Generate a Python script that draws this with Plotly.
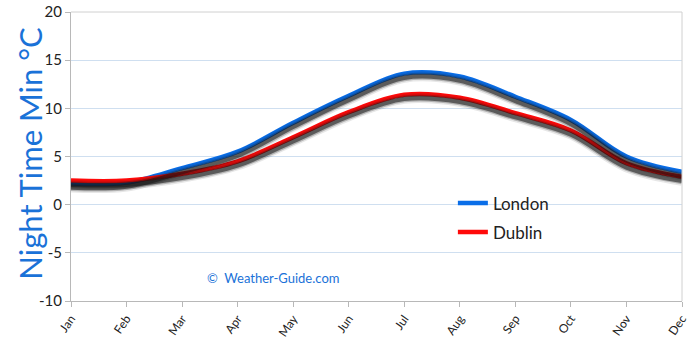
import plotly.graph_objects as go

months = ["Jan", "Feb", "Mar", "Apr", "May", "Jun", "Jul", "Aug", "Sep", "Oct", "Nov", "Dec"]
london = [2.2, 2.3, 3.8, 5.5, 8.5, 11.3, 13.6, 13.3, 11.2, 8.8, 5.0, 3.4]
dublin = [2.5, 2.5, 3.2, 4.5, 7.0, 9.6, 11.4, 11.1, 9.5, 7.7, 4.3, 2.9]
y_ticks = [-10, -5, 0, 5, 10, 15, 20]
y_tick_labels = ["-10", "-5", "0", "5", "10", "15", "20"]

Y_MIN, Y_MAX = -10, 20
SHADOW_SHIFT = 0.42  # drop shadow offset in data units (about 4px)

fig = go.Figure()

# soft drop shadows drawn on an overlaid axis shifted slightly upward
for series in (london, dublin):
    for width, alpha in ((10, 0.10), (7, 0.25), (4.5, 0.55)):
        fig.add_trace(go.Scatter(
            x=months, y=series, mode="lines", yaxis="y2",
            line=dict(color=f"rgba(20,20,20,{alpha})", width=width, shape="spline", smoothing=1.0),
            showlegend=False, hoverinfo="skip",
        ))

fig.add_trace(go.Scatter(
    x=months, y=london, mode="lines", name="London", legendgroup="london",
    line=dict(color="#0a6ee8", width=4.5, shape="spline", smoothing=1.0),
))
fig.add_trace(go.Scatter(
    x=months, y=dublin, mode="lines", name="Dublin", legendgroup="dublin",
    line=dict(color="#ff0a0a", width=4.5, shape="spline", smoothing=1.0),
))

axis_font = dict(family="Lato, sans-serif", size=12, color="#222222")

fig.update_layout(
    width=690, height=340,
    margin=dict(l=71, r=8, t=12, b=39),
    paper_bgcolor="white", plot_bgcolor="white",
    xaxis=dict(
        type="category", range=[0, 11], tickangle=-55, automargin=False,
        showgrid=False, showline=True, linecolor="#b8b8b8", linewidth=1,
        ticks="outside", ticklen=5, tickcolor="#b8b8b8",
        tickfont=axis_font, mirror=False, zeroline=False,
    ),
    yaxis=dict(
        range=[Y_MIN, Y_MAX], tickvals=y_ticks, ticktext=y_tick_labels,
        automargin=False,
        showgrid=True, gridcolor="#cfdff0", gridwidth=1,
        showline=True, linecolor="#b8b8b8", linewidth=1,
        ticks="outside", ticklen=5, tickcolor="#b8b8b8",
        tickfont=dict(family="Lato, sans-serif", size=15, color="#222222"),
        zeroline=False,
    ),
    yaxis2=dict(
        range=[Y_MIN + SHADOW_SHIFT, Y_MAX + SHADOW_SHIFT], overlaying="y",
        visible=False, showgrid=False, automargin=False,
    ),
    legend=dict(
        x=0.625, y=0.40, xanchor="left", yanchor="top",
        bgcolor="rgba(0,0,0,0)", tracegroupgap=4,
        font=dict(family="Lato, sans-serif", size=17, color="#222222"),
    ),
    showlegend=True,
    shapes=[
        dict(type="line", xref="paper", yref="paper", x0=0, x1=1, y0=1, y1=1,
             line=dict(color="#d0d0d0", width=1)),
        dict(type="line", xref="paper", yref="paper", x0=1, x1=1, y0=0, y1=1,
             line=dict(color="#d0d0d0", width=1)),
    ],
    annotations=[
        dict(text="Night Time Min °C", xref="paper", yref="paper",
             x=-0.067, y=0.51, xanchor="center", yanchor="middle",
             textangle=-90, showarrow=False,
             font=dict(family="Lato, sans-serif", size=31, color="#1a72d8")),
        dict(text="©  Weather-Guide.com", xref="paper", yref="paper",
             x=0.219, y=0.08, xanchor="left", yanchor="middle", showarrow=False,
             font=dict(family="Lato, sans-serif", size=13, color="#1a72d8")),
    ],
)

fig.write_html("out.html")
